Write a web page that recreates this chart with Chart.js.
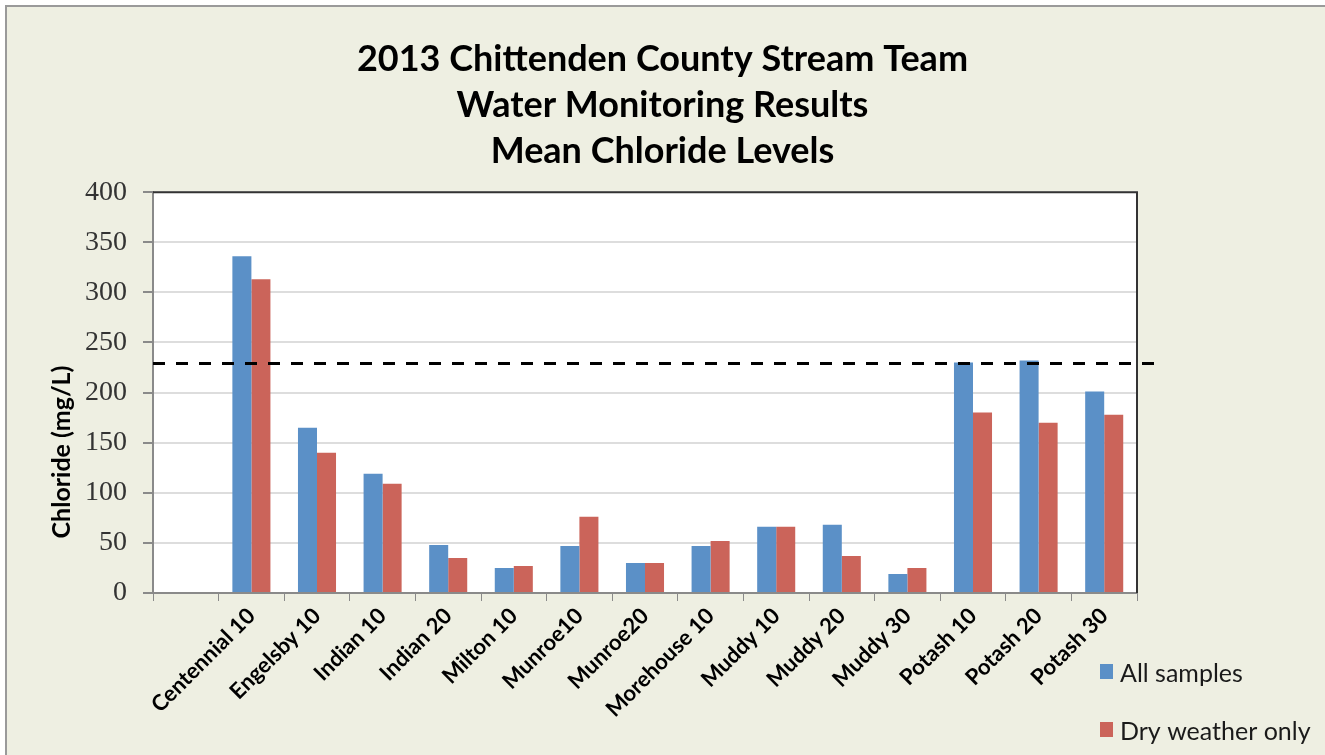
<!DOCTYPE html>
<html>
<head>
<meta charset="utf-8">
<script src="https://cdn.jsdelivr.net/npm/chart.js@4.4.0/dist/chart.umd.min.js"></script>
<style>
  html, body { margin: 0; padding: 0; background: #ffffff; }
  #wrap { width: 1325px; height: 755px; }
</style>
</head>
<body>
<div id="wrap"><canvas id="mychart" width="1325" height="755"></canvas></div>
<script>
//Data for the chart
const sites = ['', 'Centennial 10', 'Engelsby 10', 'Indian 10', 'Indian 20', 'Milton 10', 'Munroe10',
    'Munroe20', 'Morehouse 10', 'Muddy 10', 'Muddy 20', 'Muddy 30', 'Potash 10', 'Potash 20', 'Potash 30']
const allSamples = [null, 336, 165, 119, 48, 25, 47, 30, 47, 66, 68, 19, 230, 232, 201]
const dryWeather = [null, 313, 140, 109, 35, 27, 76, 30, 52, 66, 37, 25, 180, 170, 178]
const yTicks = [0, 50, 100, 150, 200, 250, 300, 350, 400]
const chlorideStandard = 230 // dashed reference line (mg/L)
const titleLines = ['2013 Chittenden County Stream Team', 'Water Monitoring Results', 'Mean Chloride Levels']
const yTitle = 'Chloride (mg/L)'

const boldFont = 'Lato'

// background + thin frame in the corner
const frame = {
    id: 'frame',
    beforeDraw(chart) {
        const ctx = chart.ctx
        ctx.save()
        ctx.fillStyle = '#ffffff'
        ctx.fillRect(0, 0, chart.width, chart.height)
        ctx.fillStyle = '#eeefe2'
        ctx.fillRect(6, 6, chart.width - 6, chart.height - 6)
        ctx.strokeStyle = '#9a9a9a'
        ctx.lineWidth = 2
        ctx.beginPath()
        ctx.moveTo(6, chart.height)
        ctx.lineTo(6, 6)
        ctx.lineTo(chart.width, 6)
        ctx.stroke()
        const a = chart.chartArea
        ctx.fillStyle = '#ffffff'
        ctx.fillRect(a.left, a.top, a.right - a.left, a.bottom - a.top)
        ctx.restore()
    }
}

// dark top/right border, dashed standard line, y title, legend
const extras = {
    id: 'extras',
    afterDatasetsDraw(chart) {
        const ctx = chart.ctx
        const a = chart.chartArea
        ctx.save()
        ctx.strokeStyle = '#333333'
        ctx.lineWidth = 2
        ctx.beginPath()
        ctx.moveTo(a.left, a.top)
        ctx.lineTo(a.right, a.top)
        ctx.lineTo(a.right, a.bottom)
        ctx.stroke()

        const y = Math.round(chart.scales.y.getPixelForValue(chlorideStandard)) + 0.5
        ctx.strokeStyle = '#000000'
        ctx.lineWidth = 3
        ctx.setLineDash([12, 11])
        ctx.beginPath()
        ctx.moveTo(a.left, y)
        ctx.lineTo(a.right + 18, y)
        ctx.stroke()
        ctx.setLineDash([])

        // y axis title
        ctx.translate(62, 452)
        ctx.rotate(-Math.PI / 2)
        ctx.fillStyle = '#000000'
        ctx.font = 'bold 25px ' + boldFont
        ctx.textAlign = 'center'
        ctx.textBaseline = 'middle'
        ctx.fillText(yTitle, 0, 0)
        ctx.restore()

        // legend
        ctx.save()
        ctx.font = '25px ' + boldFont
        ctx.textBaseline = 'middle'
        chart.data.datasets.forEach((ds, i) => {
            const cy = 672 + i * 58
            ctx.fillStyle = ds.backgroundColor
            ctx.fillRect(1100, cy - 8, 13, 15)
            ctx.fillStyle = '#1a1a1a'
            ctx.fillText(ds.label, 1120, cy + 2)
        })
        ctx.restore()
    }
}

const data = {
    labels: sites,
    datasets: [{
        label: 'All samples',
        data: allSamples,
        backgroundColor: '#5b90c7',
        categoryPercentage: 0.58,
        barPercentage: 1
    }, {
        label: 'Dry weather only',
        data: dryWeather,
        backgroundColor: '#cb645a',
        categoryPercentage: 0.58,
        barPercentage: 1
    }]
}

//confirguration for the chart
const config = {
    type: 'bar',
    data,
    plugins: [frame, extras],
    options: {
        responsive: false,
        animation: false,
        layout: { padding: 0 },
        plugins: {
            legend: { display: false },
            tooltip: { enabled: false },
            title: {
                display: true,
                text: titleLines,
                color: '#000000',
                font: { family: boldFont, size: 36, weight: 'bold', lineHeight: 1.27 },
                padding: { top: 37, bottom: 18 }
            }
        },
        scales: {
            x: {
                grid: { offset: true, drawOnChartArea: false, drawTicks: true, tickLength: 8, color: '#8a8a8a' },
                border: { color: '#8a8a8a', width: 2 },
                ticks: {
                    minRotation: 45, maxRotation: 45, padding: 2, autoSkip: false,
                    color: '#000000',
                    font: { family: boldFont, size: 22, weight: 'bold' }
                },
                afterFit(scale) { scale.height = 162 }
            },
            y: {
                min: 0,
                max: 400,
                afterBuildTicks(scale) { scale.ticks = yTicks.map(v => ({ value: v })) },
                grid: { color: '#dddddd', lineWidth: 2, tickLength: 10, tickColor: '#8a8a8a' },
                border: { color: '#8a8a8a', width: 2 },
                ticks: {
                    padding: 16,
                    color: '#333333',
                    font: { family: 'Liberation Serif', size: 28 }
                },
                afterFit(scale) { scale.width = 153 }
            },
            // empty right-hand axis that just reserves room for the legend
            yRight: {
                position: 'right',
                display: true,
                grid: { display: false },
                border: { display: false },
                ticks: { display: false },
                afterFit(scale) { scale.width = 188 }
            }
        }
    }
}

let myChart = new Chart(document.getElementById('mychart'), config)
</script>
</body>
</html>
